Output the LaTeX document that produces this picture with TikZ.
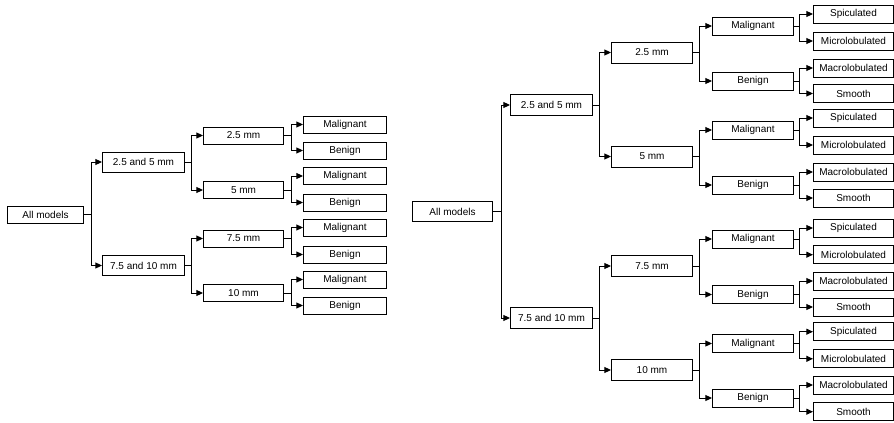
\documentclass[tikz,border=0pt]{standalone}
\usepackage{fontspec}
\setmainfont{Liberation Sans}
\usetikzlibrary{arrows.meta}
\begin{document}
\begin{tikzpicture}[x=0.75pt,y=-0.75pt,
  box/.style={draw, line width=0.75pt, inner sep=0pt, anchor=west, font=\fontsize{7.5}{9}\selectfont},
  la/.style={box, minimum width=57pt, minimum height=12.75pt},
  lb/.style={box, minimum width=61.5pt, minimum height=15pt},
  lc/.style={box, minimum width=60pt, minimum height=12.75pt},
  ld/.style={box, minimum width=62.25pt, minimum height=12.75pt},
  ra/.style={box, minimum width=60pt, minimum height=15pt},
  rb/.style={box, minimum width=61.5pt, minimum height=15.75pt},
  rc/.style={box, minimum width=60.75pt, minimum height=15.75pt},
  rd/.style={box, minimum width=60.75pt, minimum height=13.5pt},
  re/.style={box, minimum width=60pt, minimum height=13.5pt},
  conn/.style={line width=0.75pt, -{Triangle[length=5pt,width=4.5pt]}}]
\useasboundingbox (0,0) rectangle (894,422);

% ---------------- left tree ----------------
\node[la] (A) at (7,214.5) {All models};
\node[lb] (B1) at (102,162) {2.5 and 5 mm};
\node[lb] (B2) at (102,265.5) {7.5 and 10 mm};
\node[lc] (C1) at (203,135.5) {2.5 mm};
\node[lc] (C2) at (203,190) {5 mm};
\node[lc] (C3) at (203,238.5) {7.5 mm};
\node[lc] (C4) at (203,293) {10 mm};
\foreach \i/\y/\t in {1/124.5/Malignant,2/150.5/Benign,3/176/Malignant,4/202.5/Benign,
                      5/227.5/Malignant,6/254.5/Benign,7/279.5/Malignant,8/305.5/Benign}
  \node[ld] (L\i) at (303,\y) {\t};

\foreach \c in {B1,B2} \draw[conn] (A.east) -- ++(7,0) |- (\c.west);
\foreach \c in {C1,C2} \draw[conn] (B1.east) -- ++(6,0) |- (\c.west);
\foreach \c in {C3,C4} \draw[conn] (B2.east) -- ++(6,0) |- (\c.west);
\foreach \p/\a/\b in {C1/L1/L2,C2/L3/L4,C3/L5/L6,C4/L7/L8}{
  \draw[conn] (\p.east) -- ++(7,0) |- (\a.west);
  \draw[conn] (\p.east) -- ++(7,0) |- (\b.west);
}

% ---------------- right tree ----------------
\node[ra] (RA) at (412,211.5) {All models};
\node[rb] (RB1) at (510,105) {2.5 and 5 mm};
\node[rb] (RB2) at (510,318) {7.5 and 10 mm};
\node[rc] (RC1) at (611,52.5) {2.5 mm};
\node[rc] (RC2) at (611,156.5) {5 mm};
\node[rc] (RC3) at (611,266) {7.5 mm};
\node[rc] (RC4) at (611,370) {10 mm};
\foreach \i/\y/\t in {1/26/Malignant,2/81/Benign,3/130/Malignant,4/185/Benign,
                      5/239/Malignant,6/294.5/Benign,7/343.5/Malignant,8/398/Benign}
  \node[rd] (RD\i) at (712,\y) {\t};
\foreach \i/\y/\t in {1/14/Spiculated,2/41/Microlobulated,3/68/Macrolobulated,4/93.5/Smooth,
                      5/118/Spiculated,6/145/Microlobulated,7/172/Macrolobulated,8/198/Smooth,
                      9/228/Spiculated,10/254.7/Microlobulated,11/281/Macrolobulated,12/307/Smooth,
                      13/331.7/Spiculated,14/358.8/Microlobulated,15/385/Macrolobulated,16/411.7/Smooth}
  \node[re] (RE\i) at (813,\y) {\t};

\foreach \c in {RB1,RB2} \draw[conn] (RA.east) -- ++(8,0) |- (\c.west);
\foreach \c in {RC1,RC2} \draw[conn] (RB1.east) -- ++(6,0) |- (\c.west);
\foreach \c in {RC3,RC4} \draw[conn] (RB2.east) -- ++(6,0) |- (\c.west);
\foreach \p/\a/\b in {RC1/RD1/RD2,RC2/RD3/RD4,RC3/RD5/RD6,RC4/RD7/RD8}{
  \draw[conn] (\p.east) -- ++(6,0) |- (\a.west);
  \draw[conn] (\p.east) -- ++(6,0) |- (\b.west);
}
\foreach \p/\a/\b in {RD1/RE1/RE2,RD2/RE3/RE4,RD3/RE5/RE6,RD4/RE7/RE8,
                      RD5/RE9/RE10,RD6/RE11/RE12,RD7/RE13/RE14,RD8/RE15/RE16}{
  \draw[conn] (\p.east) -- ++(5,0) |- (\a.west);
  \draw[conn] (\p.east) -- ++(5,0) |- (\b.west);
}
\end{tikzpicture}
\end{document}
